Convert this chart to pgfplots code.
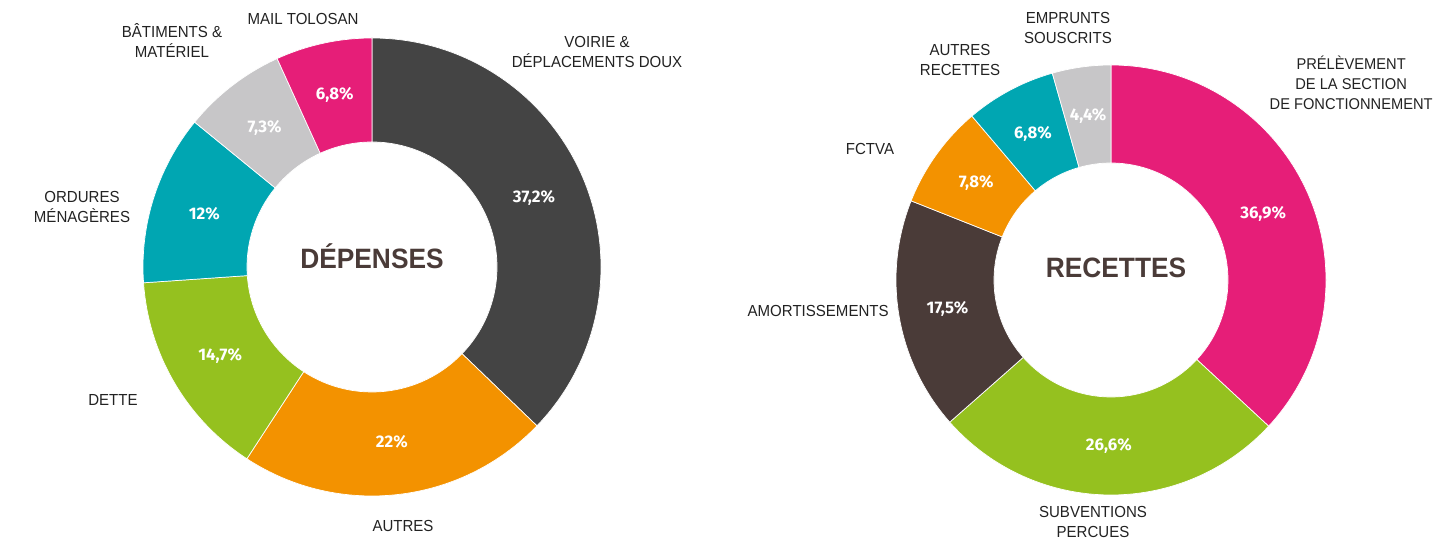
\documentclass[border=0pt]{standalone}
\usepackage{fontspec}
\setmainfont{Liberation Sans}[FakeStretch=0.94]
\newfontfamily\pctfont{Fira Sans}
\usepackage{pgfplots}
\pgfplotsset{compat=1.18}
\definecolor{cDark}{HTML}{444444}
\definecolor{cOrange}{HTML}{F39200}
\definecolor{cGreen}{HTML}{95C11F}
\definecolor{cTeal}{HTML}{00A6B2}
\definecolor{cLight}{HTML}{C7C6C8}
\definecolor{cPink}{HTML}{E61E78}
\definecolor{cBrown}{HTML}{4A3B38}
\definecolor{cText}{HTML}{222222}

% #1 cx, #2 cy (axis units), #3 outer radius, #4 inner radius, #5 label radius, #6 list value/colour/label
\newcommand{\donut}[6]{%
  \coordinate (C) at (axis cs:#1,#2);
  \gdef\cum{0}%
  \foreach \v/\c/\t in {#6} {%
    \pgfmathsetmacro\aA{90-3.6*\cum}%
    \pgfmathsetmacro\aB{90-3.6*(\cum+\v)}%
    \pgfmathsetmacro\aM{(\aA+\aB)/2}%
    \fill[\c, draw=white, line width=0.35pt] ([shift={(\aA:#3)}]C) arc[start angle=\aA, end angle=\aB, radius=#3] -- ([shift={(\aB:#4)}]C) arc[start angle=\aB, end angle=\aA, radius=#4] -- cycle;
    \node[text=white, inner sep=0pt, font=\pctfont\bfseries\fontsize{8.4}{10}\selectfont] at ([shift={(\aM:#5)}]C) {\t};
    \pgfmathsetmacro\newcum{\cum+\v}%
    \xdef\cum{\newcum}%
  }%
}

\begin{document}
\begin{tikzpicture}
\useasboundingbox (0,0) rectangle (718pt,270pt);
\begin{axis}[
  at={(0,0)}, anchor=origin,
  scale only axis, width=718pt, height=270pt,
  xmin=0, xmax=1436, ymin=0, ymax=540,
  hide axis, clip=false,
  every node/.append style={inner sep=0pt},
]
\addplot[draw=none, forget plot] coordinates {(0,0) (1436,540)};
\pgfplotsextra{%
  \donut{372}{273}{114.5pt}{62.5pt}{88pt}{37.2/cDark/{37,2\%}, 22/cOrange/{22\%}, 14.7/cGreen/{14,7\%}, 12/cTeal/{12\%}, 7.3/cLight/{7,3\%}, 6.8/cPink/{6,8\%}}%
  \donut{1111}{260}{107.5pt}{58.5pt}{83pt}{36.9/cPink/{36,9\%}, 26.6/cGreen/{26,6\%}, 17.5/cBrown/{17,5\%}, 7.8/cOrange/{7,8\%}, 6.8/cTeal/{6,8\%}, 4.4/cLight/{4,4\%}}%
}
\begin{scope}[every node/.style={inner sep=0pt, align=center, text=cText, font=\fontsize{8}{10}\selectfont}]
\node at (axis cs:303,521) {MAIL TOLOSAN};
\node at (axis cs:172,499) {BÂTIMENTS \&\\MATÉRIEL};
\node at (axis cs:597,488) {VOIRIE \&\\DÉPLACEMENTS DOUX};
\node at (axis cs:82,333) {ORDURES\\MÉNAGÈRES};
\node at (axis cs:113,140) {DETTE};
\node at (axis cs:403,14) {AUTRES};
\node at (axis cs:1068,512) {EMPRUNTS\\SOUSCRITS};
\node at (axis cs:960,480) {AUTRES\\RECETTES};
\node[anchor=east, font=\fontsize{7.8}{10}\selectfont] at (axis cs:1433,457) {PRÉLÈVEMENT\\DE LA SECTION\\DE FONCTIONNEMENT};
\node at (axis cs:870,391) {FCTVA};
\node[anchor=east] at (axis cs:889,229) {AMORTISSEMENTS};
\node at (axis cs:1093,18) {SUBVENTIONS\\PERCUES};
\end{scope}
\node[inner sep=0pt, text=cBrown, font=\bfseries\fontsize{14}{16}\selectfont] at (axis cs:372,284) {DÉPENSES};
\node[inner sep=0pt, text=cBrown, font=\bfseries\fontsize{14}{16}\selectfont] at (axis cs:1116,272) {RECETTES};
\end{axis}
\end{tikzpicture}
\end{document}
